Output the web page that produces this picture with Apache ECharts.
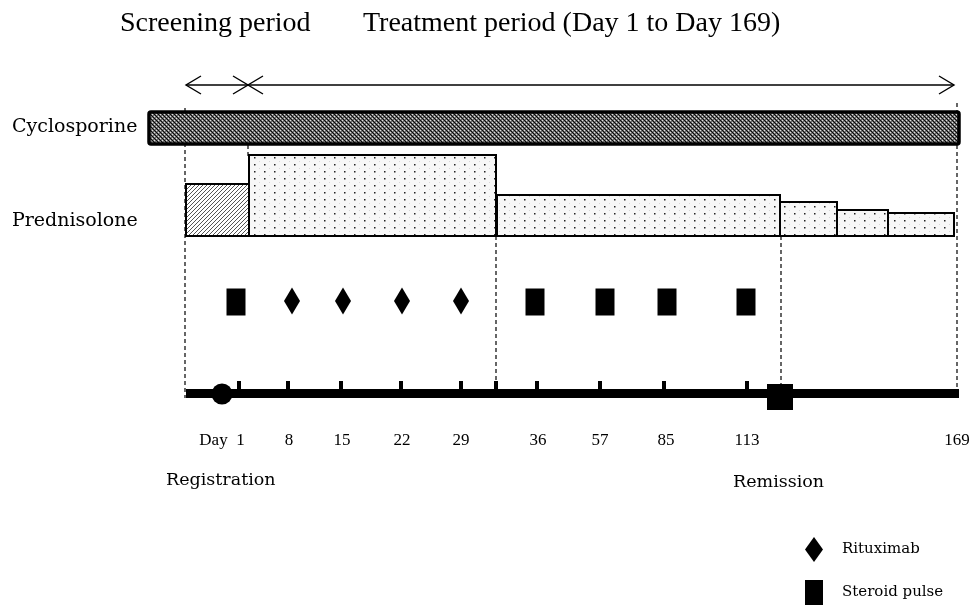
<!DOCTYPE html>
<html>
<head>
<meta charset="utf-8">
<script src="https://cdn.jsdelivr.net/npm/echarts@6/dist/echarts.min.js"></script>
<style>html,body{margin:0;padding:0;background:#fff}#main{width:971px;height:606px}</style>
</head>
<body>
<div id="main"></div>
<script>
// schematic units: x follows the study timeline (0..971), y goes downward (0..606)
var visitLabels = ['Day  1', '8', '15', '22', '29', '36', '57', '85', '113', '169'];
var visitLabelPos = [222, 289, 342, 402, 461, 538, 600, 666, 747, 957];
var visitTicks = [239, 288, 341, 401, 461, 496, 537, 600, 664, 747];
var rituximabPos = [292, 343, 402, 461];
var steroidPos = [236, 535, 605, 667, 746];
var registrationPos = [222];
var remissionPos = [780];
// prednisolone steps: start, end, dose level (top of box)
var predStart = [186, 249, 497, 780, 837, 888];
var predEnd = [249, 496, 780, 837, 888, 954];
var predLevel = [184, 155, 195, 202, 210, 213];
var predKind = ['hatch', 'dots', 'dots', 'dots', 'dots', 'dots'];
var predBase = 236;
var cycloStart = 149, cycloEnd = 959;
// period arrows: start, end
var periodStart = [186, 248];
var periodEnd = [248, 954];
// dashed guide lines: x, from, to
var guideX = [185, 248, 496, 781, 957];
var guideFrom = [108, 145, 236, 236, 103];
var guideTo = [398, 156, 391, 391, 391];

var serif = '"Liberation Serif", "Times New Roman", serif';
var serif2 = '"DejaVu Serif", serif';

function makePattern(w, h, draw) {
  var c = document.createElement('canvas');
  c.width = w; c.height = h;
  draw(c.getContext('2d'));
  return {image: c, repeat: 'repeat'};
}
var crossPat = makePattern(4, 4, function (ctx) {
  ctx.fillStyle = '#6e6e6e'; ctx.fillRect(0, 0, 4, 4);
  ctx.fillStyle = '#0a0a0a';
  ctx.fillRect(0, 0, 1, 1); ctx.fillRect(2, 2, 1, 1);
  ctx.fillRect(1, 1, 1, 1); ctx.fillRect(3, 3, 1, 1);
  ctx.fillStyle = '#e0e0e0';
  ctx.fillRect(2, 0, 1, 1); ctx.fillRect(0, 2, 1, 1);
});
var hatchPat = makePattern(4, 4, function (ctx) {
  ctx.fillStyle = '#fff'; ctx.fillRect(0, 0, 4, 4);
  ctx.fillStyle = '#555';
  for (var i = 0; i < 4; i++) ctx.fillRect(3 - i, i, 1, 1);
});
var dotPat = makePattern(10, 7, function (ctx) {
  ctx.fillStyle = '#f7f7f7'; ctx.fillRect(0, 0, 10, 7);
  ctx.fillStyle = '#222'; ctx.fillRect(4, 3, 1.5, 1.5);
  ctx.fillStyle = '#d8d8d8'; ctx.fillRect(9, 0, 1, 1);
});

var myChart = echarts.init(document.getElementById('main'));

var option = {
  animation: false,
  grid: {left: 0, right: 0, top: 0, bottom: 0},
  xAxis: {type: 'value', min: 0, max: 971, show: false},
  yAxis: {type: 'value', min: 0, max: 606, inverse: true, show: false},
  legend: {
    orient: 'vertical', left: 805, top: 537, padding: 0,
    itemWidth: 18, itemHeight: 25, itemGap: 18,
    itemStyle: {color: '#000', opacity: 1},
    textStyle: {fontFamily: serif2, fontSize: 15, color: '#000', padding: [0, 0, 0, 14]},
    data: [{name: 'Rituximab', icon: 'diamond'}, {name: 'Steroid pulse', icon: 'rect'}]
  },
  graphic: [
    {type: 'text', left: 120, top: 10, style: {text: 'Screening period', font: '28px ' + serif, fill: '#000'}},
    {type: 'text', left: 363, top: 10, style: {text: 'Treatment period (Day 1 to Day 169)', font: '28px ' + serif, fill: '#000'}},
    {type: 'text', left: 12, top: 118, style: {text: 'Cyclosporine', font: '19px ' + serif2, fill: '#000'}},
    {type: 'text', left: 12, top: 212, style: {text: 'Prednisolone', font: '19px ' + serif2, fill: '#000'}},
    {type: 'text', left: 166, top: 471, style: {text: 'Registration', font: '17.5px ' + serif2, fill: '#000'}},
    {type: 'text', left: 733, top: 473, style: {text: 'Remission', font: '17.5px ' + serif2, fill: '#000'}}
  ],
  series: [
    {
      type: 'custom', name: 'guides', z: 1, silent: true,
      data: guideX.map(function (x, i) { return [x, guideFrom[i], guideTo[i]]; }),
      renderItem: function (params, api) {
        var a = api.coord([api.value(0), api.value(1)]);
        var b = api.coord([api.value(0), api.value(2)]);
        return {type: 'line', shape: {x1: a[0], y1: a[1], x2: b[0], y2: b[1]},
          style: {stroke: '#000', lineWidth: 1.2, lineDash: [4, 3]}};
      }
    },
    {
      type: 'custom', name: 'periods', z: 2, silent: true,
      data: periodStart.map(function (x, i) { return [x, periodEnd[i], 85]; }),
      renderItem: function (params, api) {
        var a = api.coord([api.value(0), api.value(2)]);
        var b = api.coord([api.value(1), api.value(2)]);
        var st = {stroke: '#000', lineWidth: 1.4, fill: null};
        return {type: 'group', children: [
          {type: 'line', shape: {x1: a[0], y1: a[1], x2: b[0], y2: b[1]}, style: st},
          {type: 'polyline', shape: {points: [[a[0] + 15, a[1] - 9], [a[0], a[1]], [a[0] + 15, a[1] + 9]]}, style: st},
          {type: 'polyline', shape: {points: [[b[0] - 15, b[1] - 9], [b[0], b[1]], [b[0] - 15, b[1] + 9]]}, style: st}
        ]};
      }
    },
    {
      type: 'custom', name: 'Cyclosporine', z: 3, silent: true,
      data: [[cycloStart, cycloEnd, 112, 144]],
      renderItem: function (params, api) {
        var a = api.coord([api.value(0), api.value(2)]);
        var b = api.coord([api.value(1), api.value(3)]);
        return {type: 'rect', shape: {x: a[0], y: a[1], width: b[0] - a[0], height: b[1] - a[1], r: 2},
          style: {fill: crossPat, stroke: '#000', lineWidth: 3.5}};
      }
    },
    {
      type: 'custom', name: 'Prednisolone', z: 3, silent: true,
      data: predStart.map(function (x, i) { return [x, predEnd[i], predLevel[i], predBase]; }),
      renderItem: function (params, api) {
        var a = api.coord([api.value(0), api.value(2)]);
        var b = api.coord([api.value(1), api.value(3)]);
        var fill = predKind[params.dataIndex] === 'hatch' ? hatchPat : dotPat;
        return {type: 'rect', shape: {x: a[0], y: a[1], width: b[0] - a[0], height: b[1] - a[1]},
          style: {fill: fill, stroke: '#000', lineWidth: 2}};
      }
    },
    {
      type: 'line', name: 'timeline', z: 3, silent: true, symbol: 'none',
      data: [[186, 393.5], [959, 393.5]],
      lineStyle: {color: '#000', width: 9}
    },
    {
      type: 'custom', name: 'ticks', z: 3, silent: true,
      data: visitTicks.map(function (x) { return [x, 381, 390]; }),
      renderItem: function (params, api) {
        var a = api.coord([api.value(0), api.value(1)]);
        var b = api.coord([api.value(0), api.value(2)]);
        return {type: 'rect', shape: {x: a[0] - 2, y: a[1], width: 4, height: b[1] - a[1]}, style: {fill: '#000'}};
      }
    },
    {
      type: 'custom', name: 'visitLabels', z: 4, silent: true,
      data: visitLabelPos.map(function (x) { return [x, 441]; }),
      renderItem: function (params, api) {
        var p = api.coord([api.value(0), api.value(1)]);
        return {type: 'text', x: p[0], y: p[1], style: {text: visitLabels[params.dataIndex],
          font: '17px ' + serif, fill: '#000', align: 'center', verticalAlign: 'middle'}};
      }
    },
    {
      type: 'scatter', name: 'Rituximab', z: 5, symbol: 'diamond', symbolSize: [16, 27],
      itemStyle: {color: '#000', opacity: 1},
      data: rituximabPos.map(function (x) { return [x, 301]; })
    },
    {
      type: 'scatter', name: 'Steroid pulse', z: 5, symbol: 'rect', symbolSize: [19, 27],
      itemStyle: {color: '#000', opacity: 1},
      data: steroidPos.map(function (x) { return [x, 302]; })
    },
    {
      type: 'scatter', name: 'registration', z: 5, symbol: 'circle', symbolSize: 21,
      itemStyle: {color: '#000', opacity: 1},
      data: registrationPos.map(function (x) { return [x, 394]; })
    },
    {
      type: 'scatter', name: 'remission', z: 5, symbol: 'rect', symbolSize: [26, 26],
      itemStyle: {color: '#000', opacity: 1},
      data: remissionPos.map(function (x) { return [x, 397]; })
    }
  ]
};
myChart.setOption(option);
</script>
</body>
</html>
